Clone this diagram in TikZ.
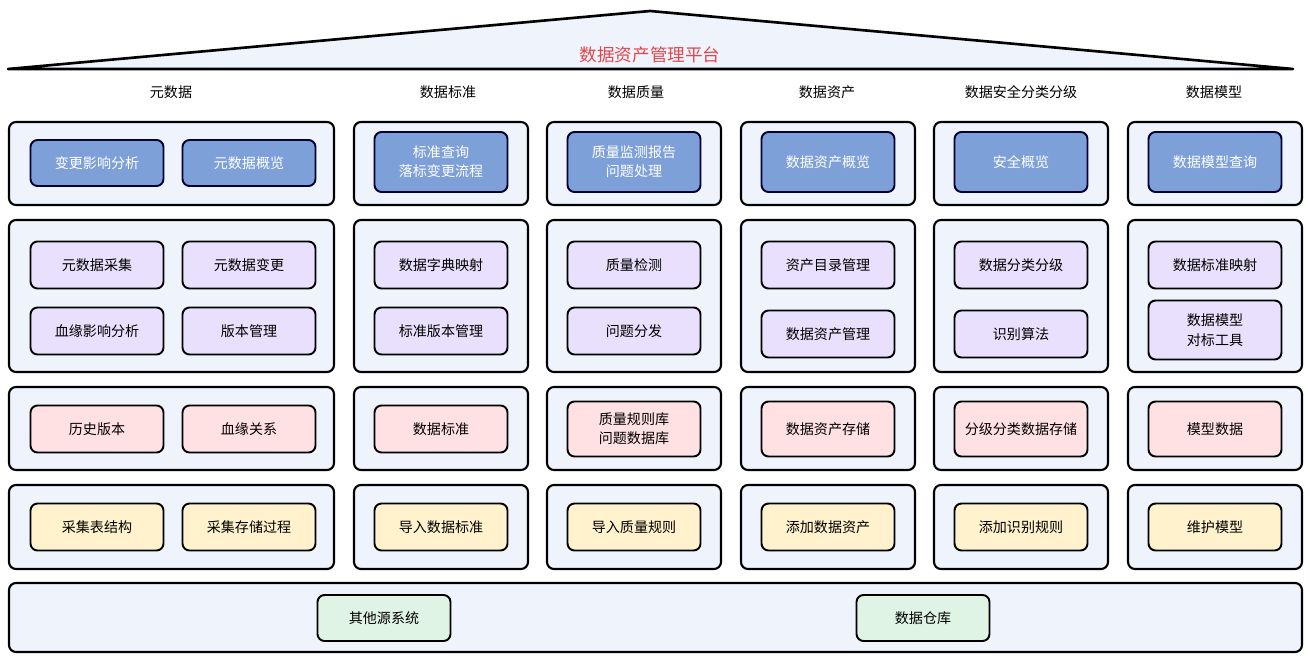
\documentclass[tikz,border=0pt]{standalone}
\usepackage{fontspec}
\setmainfont{Noto Sans CJK SC}
\usetikzlibrary{positioning}
\definecolor{panelfill}{HTML}{EFF4FC}
\definecolor{bluefill}{HTML}{7EA0D8}
\definecolor{purplefill}{HTML}{E8E0FC}
\definecolor{pinkfill}{HTML}{FFE0E3}
\definecolor{yellowfill}{HTML}{FFF2CC}
\definecolor{greenfill}{HTML}{E0F4E6}
\definecolor{titlered}{HTML}{E0474C}
\tikzset{
  panel/.style = {draw, line width=1.2pt, rounded corners=4pt, fill=panelfill},
  box/.style = {draw, line width=1.1pt, rounded corners=4pt, minimum width=133*0.02cm, align=center, font=\fontsize{8}{11}\selectfont, inner sep=1pt},
  top/.style = {box, fill=bluefill, draw=black!80!blue, text=white},
  mid/.style = {box, fill=purplefill},
  low/.style = {box, fill=pinkfill},
  base/.style = {box, fill=yellowfill},
  src/.style = {box, fill=greenfill},
  head/.style = {font=\fontsize{8}{10}\selectfont}
}
\begin{document}
\begin{tikzpicture}[x=0.02cm, y=-0.02cm]
        \useasboundingbox (0, 0) rectangle (1310, 662);
        % roof
        \draw [line width=1.5pt, fill=panelfill, line join=round] (8, 69) -- (650, 11) -- (1293, 69) -- cycle;
        \node (title) at (650, 55) [text=titlered, font=\fontsize{10}{12}\selectfont] {数据资产管理平台};
        % column headers
        \node (h1) at (171, 92) [head] {元数据};
        \node (h2) at (448, 92) [head] {数据标准};
        \node (h3) at (636, 92) [head] {数据质量};
        \node (h4) at (827, 92) [head] {数据资产};
        \node (h5) at (1021, 92) [head] {数据安全分类分级};
        \node (h6) at (1214, 92) [head] {数据模型};
        % panels
        \foreach \xa/\xb in {9/334, 354/528, 547/721, 741/915, 934/1108, 1128/1302} {
            \draw [panel] (\xa, 122) rectangle (\xb, 205);
            \draw [panel] (\xa, 220) rectangle (\xb, 372);
            \draw [panel] (\xa, 387) rectangle (\xb, 470);
            \draw [panel] (\xa, 485) rectangle (\xb, 569);
        }
        \draw [panel] (9, 583) rectangle (1302, 652);
        % row 1
        \node (a1) at (97, 163) [top, minimum height=46*0.02cm] {变更影响分析};
        \node (a2) at (249, 163) [top, minimum height=46*0.02cm] {元数据概览};
        \node (a3) at (441, 162) [top, minimum height=60*0.02cm] {标准查询\\落标变更流程};
        \node (a4) at (634, 162) [top, minimum height=60*0.02cm] {质量监测报告\\问题处理};
        \node (a5) at (828, 162) [top, minimum height=60*0.02cm] {数据资产概览};
        \node (a6) at (1021, 162) [top, minimum height=60*0.02cm] {安全概览};
        \node (a7) at (1215, 162) [top, minimum height=60*0.02cm] {数据模型查询};
        % row 2
        \node (b1) at (97, 265) [mid, minimum height=47*0.02cm] {元数据采集};
        \node (b2) at (249, 265) [mid, minimum height=47*0.02cm] {元数据变更};
        \node (b3) at (97, 331) [mid, minimum height=47*0.02cm] {血缘影响分析};
        \node (b4) at (249, 331) [mid, minimum height=47*0.02cm] {版本管理};
        \node (b5) at (441, 265) [mid, minimum height=47*0.02cm] {数据字典映射};
        \node (b6) at (441, 331) [mid, minimum height=47*0.02cm] {标准版本管理};
        \node (b7) at (634, 265) [mid, minimum height=47*0.02cm] {质量检测};
        \node (b8) at (634, 331) [mid, minimum height=47*0.02cm] {问题分发};
        \node (b9) at (828, 265) [mid, minimum height=47*0.02cm] {资产目录管理};
        \node (b10) at (828, 334) [mid, minimum height=47*0.02cm] {数据资产管理};
        \node (b11) at (1021, 265) [mid, minimum height=47*0.02cm] {数据分类分级};
        \node (b12) at (1021, 334) [mid, minimum height=47*0.02cm] {识别算法};
        \node (b13) at (1215, 265) [mid, minimum height=47*0.02cm] {数据标准映射};
        \node (b14) at (1215, 330) [mid, minimum height=59*0.02cm] {数据模型\\对标工具};
        % row 3
        \node (c1) at (97, 429) [low, minimum height=47*0.02cm] {历史版本};
        \node (c2) at (249, 429) [low, minimum height=47*0.02cm] {血缘关系};
        \node (c3) at (441, 429) [low, minimum height=47*0.02cm] {数据标准};
        \node (c4) at (634, 429) [low, minimum height=55*0.02cm] {质量规则库\\问题数据库};
        \node (c5) at (828, 429) [low, minimum height=55*0.02cm] {数据资产存储};
        \node (c6) at (1021, 429) [low, minimum height=55*0.02cm] {分级分类数据存储};
        \node (c7) at (1215, 429) [low, minimum height=55*0.02cm] {模型数据};
        % row 4
        \node (d1) at (97, 527) [base, minimum height=47*0.02cm] {采集表结构};
        \node (d2) at (249, 527) [base, minimum height=47*0.02cm] {采集存储过程};
        \node (d3) at (441, 527) [base, minimum height=47*0.02cm] {导入数据标准};
        \node (d4) at (634, 527) [base, minimum height=47*0.02cm] {导入质量规则};
        \node (d5) at (828, 527) [base, minimum height=47*0.02cm] {添加数据资产};
        \node (d6) at (1021, 527) [base, minimum height=47*0.02cm] {添加识别规则};
        \node (d7) at (1215, 527) [base, minimum height=47*0.02cm] {维护模型};
        % sources
        \node (e1) at (384, 618) [src, minimum height=46*0.02cm] {其他源系统};
        \node (e2) at (923, 618) [src, minimum height=46*0.02cm] {数据仓库};
    \end{tikzpicture}
\end{document}
